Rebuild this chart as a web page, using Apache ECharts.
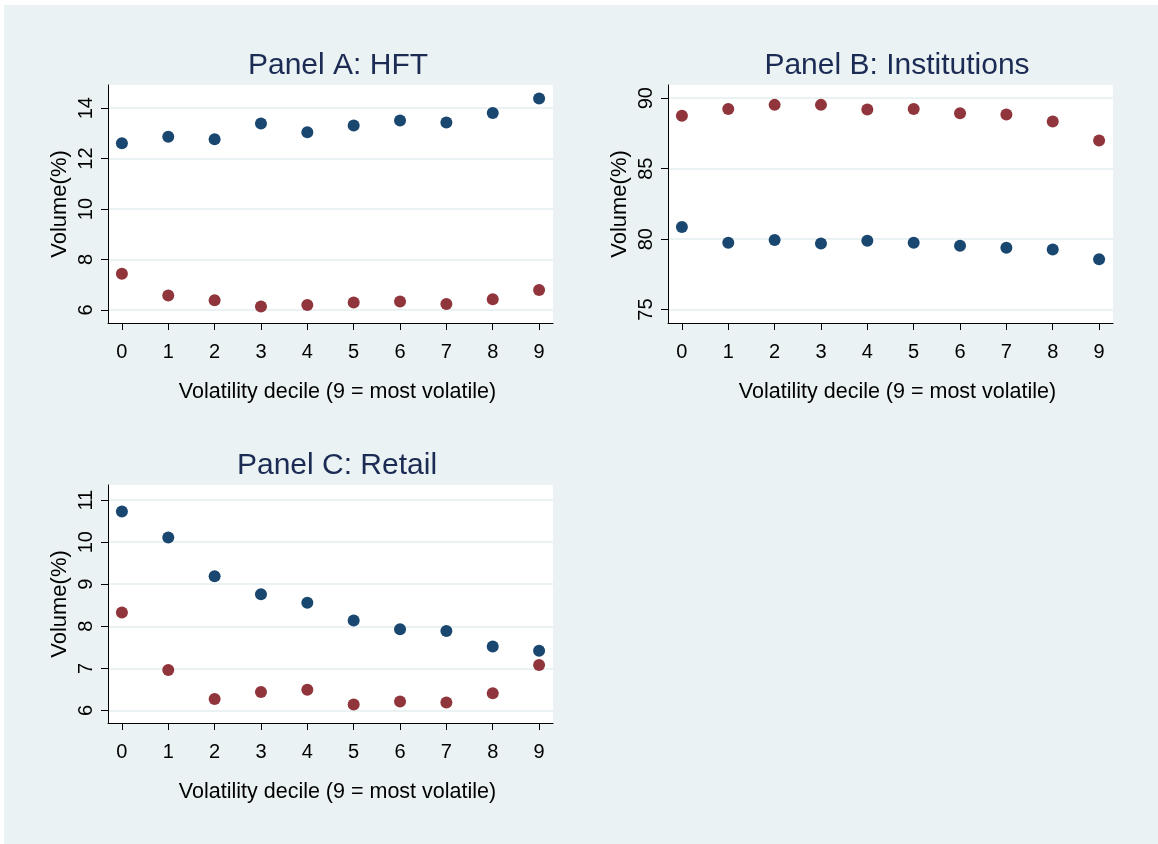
<!DOCTYPE html>
<html>
<head>
<meta charset="utf-8">
<script src="https://cdn.jsdelivr.net/npm/echarts@6/dist/echarts.min.js"></script>
<style>
html,body{margin:0;padding:0;background:#ffffff;width:1158px;height:844px;overflow:hidden;}
#chart{position:absolute;left:4px;top:5px;width:1154px;height:839px;}
</style>
</head>
<body>
<div id="chart"></div>
<script>
const deciles = [0,1,2,3,4,5,6,7,8,9];
const xTicks = [0,1,2,3,4,5,6,7,8,9];

const hftBlue = [12.61,12.87,12.77,13.39,13.05,13.31,13.51,13.43,13.81,14.38];
const hftRed  = [7.43,6.57,6.38,6.13,6.19,6.29,6.33,6.23,6.42,6.79];
const hftTicks = [6,8,10,12,14];

const instRed  = [88.75,89.24,89.53,89.53,89.20,89.24,88.94,88.84,88.35,87.00];
const instBlue = [80.86,79.75,79.94,79.70,79.89,79.75,79.53,79.39,79.27,78.57];
const instTicks = [75,80,85,90];

const retBlue = [10.73,10.11,9.19,8.76,8.56,8.14,7.93,7.89,7.52,7.42];
const retRed  = [8.33,6.96,6.27,6.44,6.49,6.14,6.21,6.19,6.41,7.08];
const retTicks = [6,7,8,9,10,11];

const titles = ['Panel A: HFT','Panel B: Institutions','Panel C: Retail'];
const xTitle = 'Volatility decile (9 = most volatile)';
const yTitle = 'Volume(%)';

const BLUE = '#1a476f', RED = '#90353b';
const FONT = '"Liberation Sans", Arial, sans-serif';

const grids = [
  {left:104, top:80, width:445, height:238},
  {left:664, top:80, width:445, height:238},
  {left:104, top:480, width:445, height:238}
];
const yRanges = [[5.48,14.92],[74.05,90.94],[5.70,11.36]];
const yTickSets = [hftTicks, instTicks, retTicks];

function pairs(vals){ return deciles.map((d,i)=>[d, vals[i]]); }

const option = {
  backgroundColor:'#eaf2f3',
  animation:false,
  textStyle:{fontFamily:FONT},
  title: grids.map((g,i)=>({
    text: titles[i],
    left: [329, 888, 328][i],
    top: g.top - 24,
    textAlign:'center',
    textVerticalAlign:'middle',
    textStyle:{fontFamily:FONT, fontSize:30, fontWeight:'normal', color:'#1c2b53'}
  })),
  grid: grids.map(g=>Object.assign({show:true, backgroundColor:'#ffffff', borderWidth:0}, g)),
  xAxis: grids.map((g,i)=>({
    type:'value', gridIndex:i, min:-0.3, max:9.3,
    name: xTitle, nameLocation:'middle', nameGap:58,
    nameTextStyle:{fontFamily:FONT, fontSize:21.5, color:'#000', padding:[0,0,0,14]},
    axisLine:{show:true, onZero:false, lineStyle:{color:'#000', width:1}},
    axisTick:{show:true, length:7, customValues:xTicks, lineStyle:{color:'#000'}},
    axisLabel:{customValues:xTicks, fontFamily:FONT, fontSize:20, color:'#000', margin:19},
    splitLine:{show:false}
  })),
  yAxis: grids.map((g,i)=>({
    type:'value', gridIndex:i, min:yRanges[i][0], max:yRanges[i][1],
    name: yTitle, nameLocation:'middle', nameGap:37, nameRotate:90,
    nameTextStyle:{fontFamily:FONT, fontSize:22, color:'#000'},
    axisLine:{show:true, onZero:false, lineStyle:{color:'#000', width:1}},
    axisTick:{show:true, length:7, customValues:yTickSets[i], lineStyle:{color:'#000'}},
    axisLabel:{customValues:yTickSets[i], rotate:90, fontFamily:FONT, fontSize:20, color:'#000', margin:12},
    splitLine:{show:true, lineStyle:{color:'#eaf2f3', width:2}}
  })),
  series: [
    {data:pairs(hftBlue), color:BLUE, xAxisIndex:0, yAxisIndex:0},
    {data:pairs(hftRed), color:RED, xAxisIndex:0, yAxisIndex:0},
    {data:pairs(instRed), color:RED, xAxisIndex:1, yAxisIndex:1},
    {data:pairs(instBlue), color:BLUE, xAxisIndex:1, yAxisIndex:1},
    {data:pairs(retBlue), color:BLUE, xAxisIndex:2, yAxisIndex:2},
    {data:pairs(retRed), color:RED, xAxisIndex:2, yAxisIndex:2}
  ].map(s=>Object.assign({type:'scatter', symbol:'circle', symbolSize:12, itemStyle:{color:s.color, opacity:1}}, s))
};

const chart = echarts.init(document.getElementById('chart'), null, {renderer:'canvas'});
chart.setOption(option);
</script>
</body>
</html>
